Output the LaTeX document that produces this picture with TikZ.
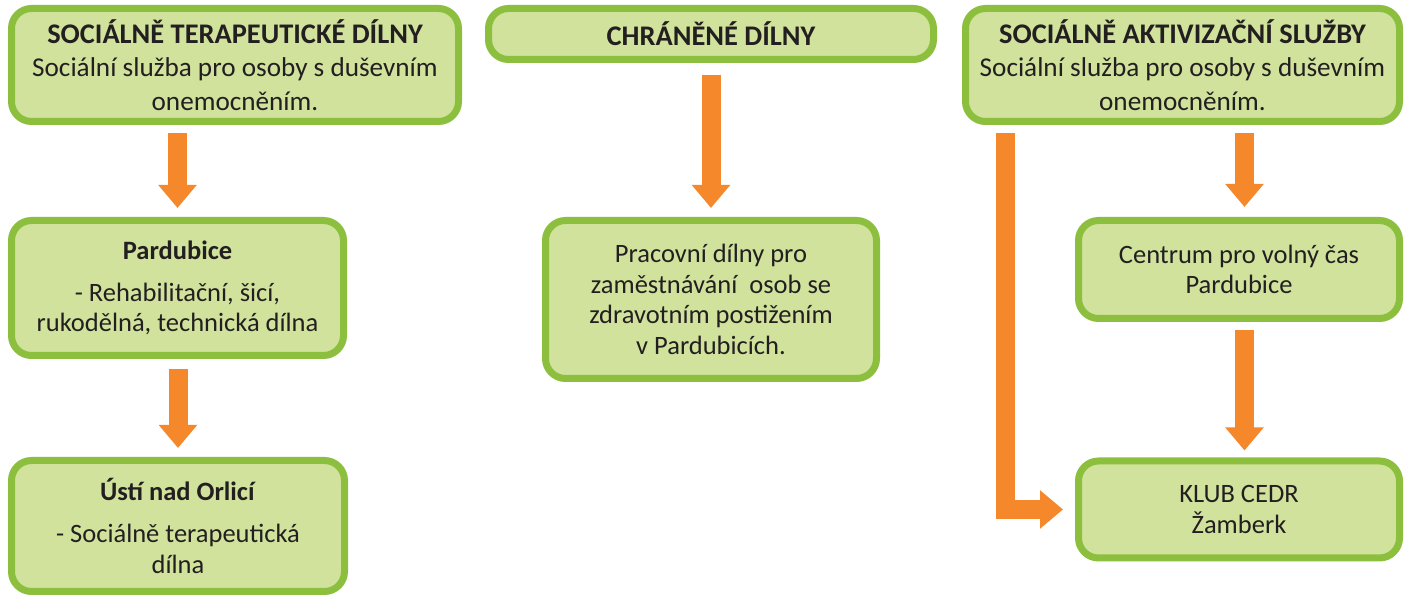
\documentclass[tikz,border=0pt]{standalone}
\usepackage{fontspec}
\setmainfont{Carlito}
\usetikzlibrary{arrows.meta,calc}
\definecolor{boxfill}{HTML}{D0E29C}
\definecolor{boxline}{HTML}{8CBF3E}
\definecolor{arrorange}{HTML}{F4882B}
\definecolor{txt}{HTML}{231F20}
\newcommand{\ttl}[1]{{\fontsize{14.2}{16.7}\selectfont\bfseries #1}}
\begin{document}
\begin{tikzpicture}[x=0.5pt,y=-0.5pt,
  box/.style={draw=boxline,fill=boxfill,line width=3.5pt,rounded corners=10pt,
    align=center,inner sep=0pt,outer sep=0pt,text=txt},
  big/.style={font=\fontsize{13.6}{16.7}\selectfont},
  small/.style={font=\fontsize{13.25}{15.4}\selectfont},
  flow/.style={draw=arrorange,line width=9.5pt,line join=miter,
    -{Triangle[length=11.5pt,width=18.5pt]}}]
\useasboundingbox (0,0) rectangle (1405,597);

\node[box,big,minimum width=223.5pt,minimum height=56.5pt] (b1) at (235,65)
  {\ttl{SOCIÁLNĚ TERAPEUTICKÉ DÍLNY}\\Sociální služba pro osoby s duševním\\onemocněním.};
\node[box,big,minimum width=222.5pt,minimum height=25.5pt] (b2) at (711,34)
  {\ttl{CHRÁNĚNÉ DÍLNY}};
\node[box,big,minimum width=217pt,minimum height=56.5pt] (b3) at (1182.5,65)
  {\ttl{SOCIÁLNĚ AKTIVIZAČNÍ SLUŽBY}\\Sociální služba pro osoby s duševním\\onemocněním.};
\node[box,small,minimum width=166pt,minimum height=67.5pt] (b4) at (177.5,288)
  {\textbf{Pardubice}\\[5.5pt]- Rehabilitační, šicí,\\rukodělná, technická dílna};
\node[box,small,minimum width=166.5pt,minimum height=65.5pt] (b5) at (178,526)
  {\textbf{Ústí nad Orlicí}\\[5.5pt]- Sociálně terapeutická\\dílna};
\node[box,small,minimum width=165.5pt,minimum height=79pt] (b6) at (711,299.5)
  {Pracovní dílny pro\\zaměstnávání\ \ osob se\\zdravotním postižením\\v Pardubicích.};
\node[box,small,minimum width=160.5pt,minimum height=49pt] (b7) at (1239,269.5)
  {Centrum pro volný čas\\Pardubice};
\node[box,small,minimum width=160.5pt,minimum height=48.5pt] (b8) at (1239,509.5)
  {KLUB CEDR\\Žamberk};

\draw[flow,shorten <=5.75pt,shorten >=6.25pt] (b4.north |- b1.south) -- (b4.north);
\draw[flow,shorten <=6.75pt,shorten >=6.25pt] (b5.north |- b4.south) -- (b5.north);
\draw[flow,shorten <=7.75pt,shorten >=6.25pt] (b6.north |- b2.south) -- (b6.north);
\draw[flow,shorten <=5.75pt,shorten >=6.75pt] ([xshift=2.75pt]b7.north |- b3.south) -- ([xshift=2.75pt]b7.north);
\draw[flow,shorten <=5.75pt,shorten >=5.25pt] ([xshift=2.75pt]b7.south) -- ([xshift=2.75pt]b8.north);
\draw[flow,shorten <=5.75pt,shorten >=7.75pt] ([xshift=20pt]b3.south west) |- (b8.west);
\end{tikzpicture}
\end{document}
